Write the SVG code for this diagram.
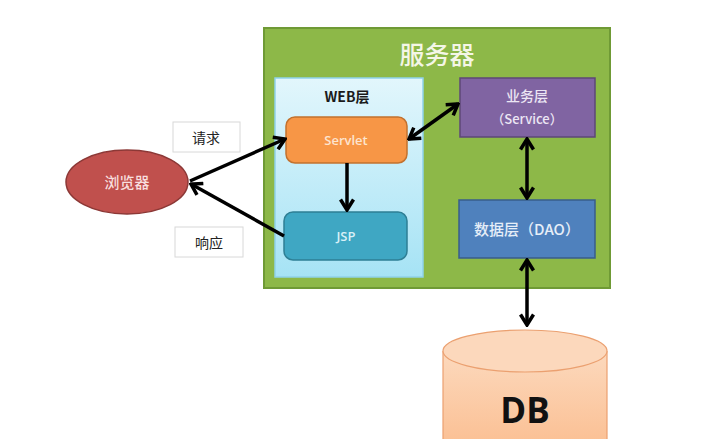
<svg xmlns="http://www.w3.org/2000/svg" width="721" height="439" viewBox="0 0 721 439">
<defs>
<linearGradient id="gWeb" x1="0" y1="0" x2="0" y2="1"><stop offset="0" stop-color="#e2f6fc"/><stop offset="1" stop-color="#a6e3f5"/></linearGradient>
<linearGradient id="gDb" x1="0" y1="0" x2="0" y2="1"><stop offset="0" stop-color="#fcd9bd"/><stop offset="1" stop-color="#fbc196"/></linearGradient>
<marker id="ah" viewBox="0 0 14 16" refX="12" refY="8" markerWidth="14" markerHeight="16" markerUnits="userSpaceOnUse" orient="auto-start-reverse">
<path d="M1.5,1.5 L12,8 L1.5,14.5" fill="none" stroke="#000" stroke-width="3.5" stroke-linejoin="miter"/>
</marker>
<style>
.cn{font-family:"Noto Sans CJK SC","Noto Sans",sans-serif}
.lat{font-family:"Open Sans","Noto Sans CJK SC",sans-serif}
.ar{fill:none;stroke:#000;stroke-width:3.5}
</style>
</defs>
<rect width="721" height="439" fill="#fff"/>
<g id="server">
<rect x="264" y="28" width="346" height="260" fill="#8db848" stroke="#6f9a35" stroke-width="2"/>
<text x="437" y="64" class="cn" font-size="25" font-weight="500" fill="#f4f6e6" text-anchor="middle">服务器</text>
</g>
<g id="web">
<rect x="275" y="78" width="148" height="199" fill="url(#gWeb)" stroke="#8fd2ea" stroke-width="1.5"/>
<text x="347" y="102" class="cn" font-size="14" font-weight="bold" fill="#1a1a1a" text-anchor="middle">WEB层</text>
</g>
<g id="servlet">
<rect x="286" y="117" width="121" height="46" rx="9" fill="#f79646" stroke="#c2712e" stroke-width="1.5"/>
<text x="346" y="145" class="lat" font-size="13" font-weight="600" fill="#fde4cf" text-anchor="middle">Servlet</text>
</g>
<g id="jsp">
<rect x="284" y="212" width="123" height="48" rx="9" fill="#3fa7c3" stroke="#2e7f95" stroke-width="1.5"/>
<text x="346" y="241" class="lat" font-size="13" font-weight="600" fill="#d8f0f7" text-anchor="middle">JSP</text>
</g>
<g id="service">
<rect x="460" y="78" width="135" height="59" fill="#8064a2" stroke="#5d4777" stroke-width="1.5"/>
<text x="527" y="101" class="cn" font-size="14" font-weight="500" fill="#ece6f4" text-anchor="middle">业务层</text>
<text x="527" y="124" class="cn" font-size="13" font-weight="500" fill="#ece6f4" text-anchor="middle">（Service）</text>
</g>
<g id="dao">
<rect x="459" y="200" width="136" height="58" fill="#4f81bd" stroke="#385d8a" stroke-width="1.5"/>
<text x="527" y="235" class="cn" font-size="15" font-weight="500" fill="#e6eef8" text-anchor="middle">数据层（DAO）</text>
</g>
<g id="browser">
<ellipse cx="127" cy="182" rx="61" ry="32" fill="#c0504d" stroke="#8c3836" stroke-width="1.5"/>
<text x="127" y="188" class="cn" font-size="15" font-weight="500" fill="#f8dede" text-anchor="middle">浏览器</text>
</g>
<g id="db">
<path d="M443,351 L443,440 L607,440 L607,351" fill="url(#gDb)" stroke="#eba070" stroke-width="1.2"/>
<ellipse cx="525" cy="351" rx="82" ry="21" fill="#fcd8bc" stroke="#eba070" stroke-width="1.2"/>
<text x="525" y="423" font-family="'Open Sans',sans-serif" font-size="35" font-weight="bold" fill="#111" text-anchor="middle">DB</text>
</g>
<g id="label-req">
<rect x="173" y="122" width="67" height="30" fill="#fff" stroke="#d8d8d8"/>
<text x="206" y="143" class="cn" font-size="14" fill="#222" text-anchor="middle">请求</text>
</g>
<g id="label-resp">
<rect x="175" y="227" width="68" height="30" fill="#fff" stroke="#d8d8d8"/>
<text x="209" y="248" class="cn" font-size="14" fill="#222" text-anchor="middle">响应</text>
</g>
<g id="connectors">
<line class="ar" x1="190" y1="181" x2="285" y2="139" marker-end="url(#ah)"/>
<line class="ar" x1="284" y1="236" x2="191" y2="184" marker-end="url(#ah)"/>
<line class="ar" x1="347" y1="163" x2="347" y2="210" marker-end="url(#ah)"/>
<line class="ar" x1="409" y1="139" x2="458" y2="104" marker-start="url(#ah)" marker-end="url(#ah)"/>
<line class="ar" x1="527" y1="139" x2="527" y2="198" marker-start="url(#ah)" marker-end="url(#ah)"/>
<line class="ar" x1="527" y1="260" x2="527" y2="325" marker-start="url(#ah)" marker-end="url(#ah)"/>
</g>
</svg>
